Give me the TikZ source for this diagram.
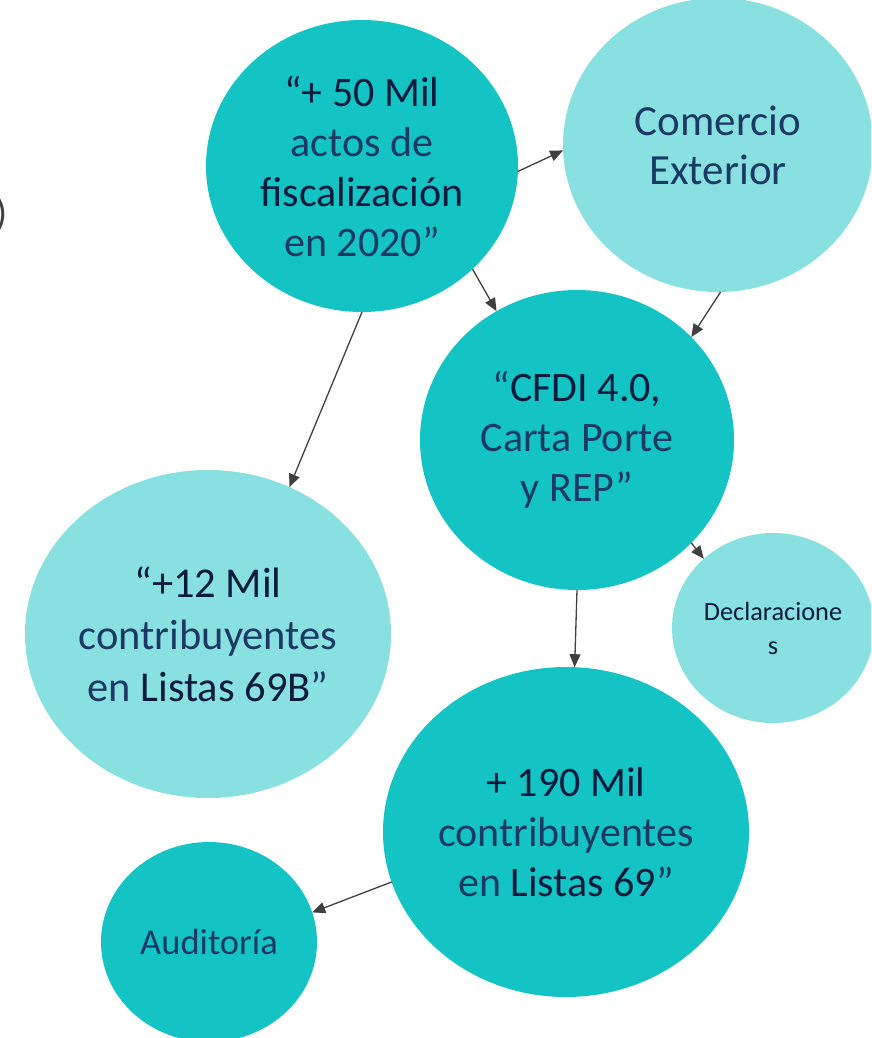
\documentclass[tikz,border=0pt]{standalone}
\usepackage{fontspec}
\setmainfont{Carlito}
\usetikzlibrary{shapes.geometric,arrows.meta}
\definecolor{tealA}{HTML}{14C3C4}
\definecolor{tealB}{HTML}{88E0E0}
\definecolor{navyL}{HTML}{1B3A63}
\definecolor{navyD}{HTML}{0A1B3D}
\definecolor{arrowgray}{HTML}{404040}
\newcommand{\strongtx}[1]{{\color{navyD}#1}}
\tikzset{
  bubble/.style={ellipse, inner sep=0pt, outer sep=0pt, align=center, text=navyL},
  darkbub/.style={bubble, fill=tealA},
  lightbub/.style={bubble, fill=tealB},
  bigtxt/.style={font=\fontsize{42}{50}\selectfont},
  conn/.style={draw=arrowgray, line width=1.3pt, -{Triangle[length=13pt,width=11pt]}}
}
\begin{document}
\begin{tikzpicture}[x=1pt,y=1pt]
\useasboundingbox (0,0) rectangle (871,-1038);
\clip (0,0) rectangle (871,-1038);
\node[lightbub, minimum width=310, minimum height=294, font=\fontsize{43}{49}\selectfont] (com) at (718,-145) {Comercio\\Exterior};
\node[darkbub, bigtxt, minimum width=312, minimum height=292] (fis) at (362,-166) {\strongtx{“+ 50 Mil}\\actos de\\\strongtx{fiscalización}\\en 2020”};
\node[darkbub, bigtxt, minimum width=314, minimum height=300] (cfdi) at (577,-440) {“\strongtx{CFDI 4.0,}\\Carta Porte\\y REP”};
\node[lightbub, minimum width=202, minimum height=190, font=\fontsize{26.3}{34}\selectfont] (dec) at (773,-628) {\strongtx{Declaracione}\\\strongtx{s}};
\node[lightbub, minimum width=366, minimum height=328, font=\fontsize{42.5}{52}\selectfont] (l69b) at (208,-634) {\strongtx{“+12 Mil}\\contribuyentes\\en \strongtx{Listas 69B}”};
\node[darkbub, bigtxt, minimum width=366, minimum height=330] (l69) at (566,-832) {\strongtx{+ 190 Mil}\\contribuyentes\\en \strongtx{Listas 69}”};
\node[darkbub, minimum width=216, minimum height=200, font=\fontsize{36.5}{42}\selectfont] (aud) at (209,-942) {Auditoría};
\node[anchor=east, inner sep=0pt, text=arrowgray, font=\fontsize{40}{48}\selectfont] (par) at (8,-215) {)};
\draw[conn] (fis.-2) -- (com.182);
\draw[conn] (fis.-43) -- (cfdi.122);
\draw[conn] (com.-89) -- (cfdi.42.6);
\draw[conn] (fis.-90) -- (l69b.61.6);
\draw[conn] (cfdi.-42.8) -- (dec.135.8);
\draw[conn] (cfdi.-90.8) -- (l69.87);
\draw[conn] (l69.196.3) -- (aud.16);
\end{tikzpicture}
\end{document}
